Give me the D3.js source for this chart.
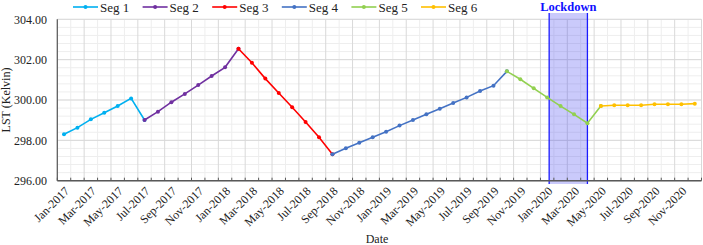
<!DOCTYPE html>
<html lang="en">
<head>
<meta charset="UTF-8">
<title>LST segments</title>
<script src="https://cdn.jsdelivr.net/npm/d3@7"></script>
<style>
  body { margin: 0; background: #fff; }
  svg { display: block; }
</style>
</head>
<body>
<div id="chart"></div>
<script>
// months shown on the axis
const months = [];
const monthNames = ["Jan","Feb","Mar","Apr","May","Jun","Jul","Aug","Sep","Oct","Nov","Dec"];
[2017, 2018, 2019, 2020].forEach(y => monthNames.forEach(m => months.push(m + "-" + y)));

// each segment: first month and values (last point is shared with next segment)
const seg1Start = "Jan-2017";
const seg1 = [298.30, 298.63, 299.04, 299.37, 299.70, 300.08, 299.01];
const seg2Start = "Jul-2017";
const seg2 = [299.01, 299.42, 299.89, 300.30, 300.74, 301.19, 301.62, 302.54];
const seg3Start = "Feb-2018";
const seg3 = [302.54, 301.85, 301.06, 300.35, 299.64, 298.91, 298.15, 297.31];
const seg4Start = "Sep-2018";
const seg4 = [297.31, 297.61, 297.88, 298.15, 298.43, 298.73, 299.01, 299.29, 299.57, 299.85, 300.13, 300.45, 300.71, 301.42];
const seg5Start = "Oct-2019";
const seg5 = [301.42, 301.03, 300.58, 300.13, 299.70, 299.29, 298.85, 299.70];
const seg6Start = "May-2020";
const seg6 = [299.70, 299.74, 299.74, 299.74, 299.79, 299.79, 299.79, 299.82];

const segNames = ["Seg 1", "Seg 2", "Seg 3", "Seg 4", "Seg 5", "Seg 6"];
const segColors = ["#00B0F0", "#7030A0", "#FF0000", "#4472C4", "#92D050", "#FFC000"];
const yTicks = [296, 298, 300, 302, 304];
const lockdown = ["Jan-2020", "Apr-2020"];

const width = 703, height = 245;
const margin = {left: 57.3, right: 1.5, top: 19.3, bottom: 64.3};
const font = "'Liberation Serif', 'Times New Roman', 'DejaVu Serif', serif";

const svg = d3.select("#chart").append("svg")
    .attr("width", width).attr("height", height)
    .attr("font-family", font)
    .style("font-family", font);

const x = d3.scaleBand().domain(months)
    .range([margin.left, width - margin.right]);
const y = d3.scaleLinear().domain([296, 304])
    .range([height - margin.bottom, margin.top]);
const cx = m => x(m) + x.bandwidth() / 2;

// gridlines
const grid = svg.append("g");
const minorY = d3.range(296, 304.001, 0.4);
grid.selectAll(".hmin").data(minorY).join("line")
    .attr("x1", margin.left).attr("x2", width - margin.right)
    .attr("y1", d => y(d)).attr("y2", d => y(d))
    .attr("stroke", "#eeeeee").attr("stroke-width", 1);
const bounds = months.map(m => x(m)).concat([width - margin.right]);
grid.selectAll(".vmin").data(bounds).join("line")
    .attr("x1", d => d).attr("x2", d => d)
    .attr("y1", margin.top).attr("y2", y(296))
    .attr("stroke", (d, i) => i % 2 === 0 ? "#d9d9d9" : "#eeeeee").attr("stroke-width", 1);
grid.selectAll(".hmaj").data(yTicks).join("line")
    .attr("x1", margin.left).attr("x2", width - margin.right)
    .attr("y1", d => y(d)).attr("y2", d => y(d))
    .attr("stroke", "#d9d9d9").attr("stroke-width", 1);

// lockdown band
const lx0 = cx(lockdown[0]) + 2, lx1 = cx(lockdown[1]);
svg.append("rect")
    .attr("x", lx0).attr("y", 13).attr("width", lx1 - lx0).attr("height", 171)
    .attr("fill", "#2a2af0").attr("fill-opacity", 0.25);
svg.selectAll(".lk").data([lx0, lx1]).join("line")
    .attr("x1", d => d).attr("x2", d => d).attr("y1", 13).attr("y2", 184)
    .attr("stroke", "#1a1aff").attr("stroke-width", 1.3);
svg.append("text")
    .attr("x", (lx0 + lx1) / 2).attr("y", 11)
    .attr("text-anchor", "middle").attr("font-size", 12.5).attr("font-weight", "bold")
    .attr("fill", "#1010ff").text("Lockdown");

// axes
const xAxisY = y(296);
svg.append("line").attr("x1", margin.left).attr("x2", width - margin.right)
    .attr("y1", xAxisY).attr("y2", xAxisY).attr("stroke", "#595959").attr("stroke-width", 1.5);
svg.append("line").attr("x1", margin.left).attr("x2", margin.left)
    .attr("y1", margin.top).attr("y2", xAxisY).attr("stroke", "#595959").attr("stroke-width", 1.2);
svg.selectAll(".xt").data(bounds).join("line")
    .attr("x1", d => d).attr("x2", d => d).attr("y1", xAxisY).attr("y2", xAxisY - 3)
    .attr("stroke", "#595959").attr("stroke-width", 1);

svg.append("g").selectAll("text").data(yTicks).join("text")
    .attr("x", 47).attr("y", d => y(d)).attr("dy", "0.35em")
    .attr("text-anchor", "end").attr("font-size", 12).attr("fill", "#222")
    .text(d => d.toFixed(2));

svg.append("g").selectAll("text").data(months.filter((m, i) => i % 2 === 0)).join("text")
    .attr("transform", m => `translate(${cx(m) + 3},${xAxisY + 8}) rotate(-45)`)
    .attr("text-anchor", "end").attr("dy", "0.35em")
    .attr("font-size", 12).attr("fill", "#222")
    .text(m => m);

svg.append("text").attr("x", 377).attr("y", 243).attr("text-anchor", "middle")
    .attr("font-size", 12).attr("fill", "#222").text("Date");
svg.append("text").attr("transform", `translate(10,${(margin.top + xAxisY) / 2}) rotate(-90)`)
    .attr("text-anchor", "middle").attr("font-size", 12).attr("fill", "#222").text("LST (Kelvin)");

// series
const segs = [[seg1Start, seg1], [seg2Start, seg2], [seg3Start, seg3],
              [seg4Start, seg4], [seg5Start, seg5], [seg6Start, seg6]].map(([s, vals], k) => {
    const i0 = months.indexOf(s);
    return {name: segNames[k], color: segColors[k],
            pts: vals.map((v, j) => ({m: months[i0 + j], v}))};
});
const line = d3.line().x(d => cx(d.m)).y(d => y(d.v));
const sg = svg.append("g");
segs.forEach(s => {
    sg.append("path").datum(s.pts).attr("d", line)
        .attr("fill", "none").attr("stroke", s.color).attr("stroke-width", 1.6);
    sg.selectAll(null).data(s.pts).join("circle")
        .attr("cx", d => cx(d.m)).attr("cy", d => y(d.v)).attr("r", 2)
        .attr("fill", s.color);
});

// legend
const lg = svg.append("g").selectAll("g").data(segs).join("g")
    .attr("transform", (d, i) => `translate(${73 + i * 69.6},7)`);
lg.append("line").attr("x1", 0).attr("x2", 25).attr("stroke", d => d.color).attr("stroke-width", 1.6);
lg.append("circle").attr("cx", 12.5).attr("r", 2).attr("fill", d => d.color);
lg.append("text").attr("x", 27).attr("dy", "0.35em").attr("font-size", 13)
    .attr("fill", "#222").text(d => d.name);
</script>
</body>
</html>
